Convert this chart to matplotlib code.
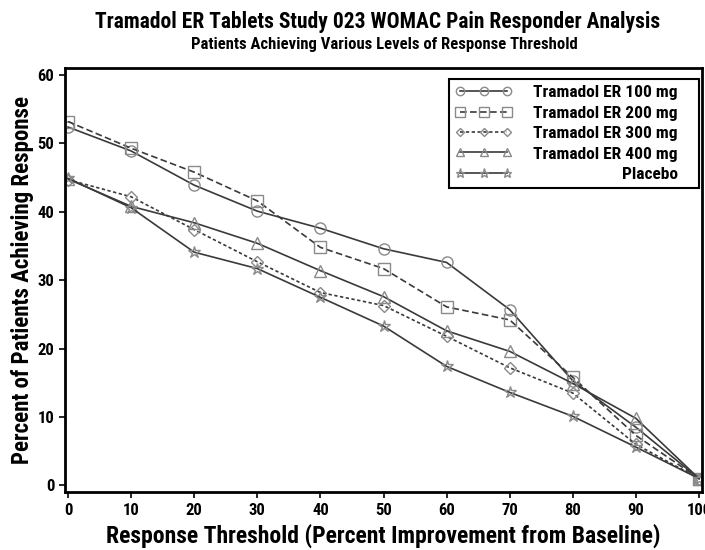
import numpy as np
import matplotlib
matplotlib.use('Agg')
import matplotlib.pyplot as plt
from matplotlib.offsetbox import DrawingArea

plt.rcParams['font.family'] = ['Roboto Condensed', 'DejaVu Sans']

# Data
thresholds = [0, 10, 20, 30, 40, 50, 60, 70, 80, 90, 100]
tram_100 = [52.4, 48.9, 43.9, 40.1, 37.6, 34.6, 32.6, 25.7, 15.3, 8.5, 1.0]
tram_200 = [53.2, 49.3, 45.8, 41.6, 34.8, 31.7, 26.1, 24.2, 15.8, 7.3, 1.0]
tram_300 = [44.7, 42.2, 37.4, 32.7, 28.2, 26.3, 21.8, 17.2, 13.5, 6.0, 1.0]
tram_400 = [44.8, 40.8, 38.4, 35.4, 31.4, 27.6, 22.6, 19.6, 14.9, 9.8, 1.0]
placebo = [44.9, 40.6, 34.1, 31.7, 27.5, 23.3, 17.4, 13.6, 10.1, 5.6, 1.0]

labels = ['Tramadol ER 100 mg', 'Tramadol ER 200 mg', 'Tramadol ER 300 mg',
          'Tramadol ER 400 mg', 'Placebo']
series = [tram_100, tram_200, tram_300, tram_400, placebo]
markers = ['o', 's', 'D', '^', '*']
styles = ['-', (0, (4, 2)), (0, (2, 1.5)), '-', '-']
msizes = [8, 9, 6, 8, 9]

fig = plt.figure(figsize=(7.05, 5.5), dpi=100)
ax = fig.add_axes([0.092, 0.105, 0.904, 0.771])

line_col = '#3a3a3a'
mark_col = '#8a8a8a'
for y, lab, m, ls, ms in zip(series, labels, markers, styles, msizes):
    ax.plot(thresholds, y, color=line_col, linestyle=ls, linewidth=1.2,
            marker=m, markersize=ms, markerfacecolor='none',
            markeredgecolor=mark_col, markeredgewidth=1.0, label=lab)

ax.set_xlim(-0.5, 100.5)
ax.set_ylim(-1, 61)
ax.set_xticks(np.arange(0, 101, 10))
ax.set_yticks(np.arange(0, 61, 10))
for s in ax.spines.values():
    s.set_linewidth(2.0)
ax.tick_params(axis='both', labelsize=12, length=4, width=1.2)
for t in ax.get_xticklabels() + ax.get_yticklabels():
    t.set_fontweight('bold')

ax.set_xlabel('Response Threshold (Percent Improvement from Baseline)',
              fontsize=17, fontweight='bold', labelpad=4)
ax.set_ylabel('Percent of Patients Achieving Response',
              fontsize=16.5, fontweight='bold', labelpad=3)

fig.text(0.535, 0.96, 'Tramadol ER Tablets Study 023 WOMAC Pain Responder Analysis',
         ha='center', va='center', fontsize=15.5, fontweight='bold')
fig.text(0.545, 0.92, 'Patients Achieving Various Levels of Response Threshold',
         ha='center', va='center', fontsize=12, fontweight='bold')

leg = ax.legend(loc='upper right', numpoints=3, handlelength=3.3,
                fancybox=False, edgecolor='black', framealpha=1,
                prop={'weight': 'bold', 'size': 12.5}, borderpad=0.35,
                labelspacing=0.3, handletextpad=1.2, markerscale=0.75,
                borderaxespad=0, bbox_to_anchor=(0.995, 0.974))
leg.get_frame().set_linewidth(1.5)

# right-align legend labels: stretch every row to the widest one
fig.canvas.draw()
renderer = fig.canvas.get_renderer()
rows = [r for col in leg._legend_handle_box.get_children() for r in col.get_children()]
row_w = max(r.get_bbox(renderer).width for r in rows)
for r in rows:
    r.mode = 'expand'
    r.width = row_w
# extra blank room on the right side of the legend box
leg._legend_handle_box._children.append(DrawingArea(0, 1))
leg._legend_handle_box.sep = 11

fig.savefig('out.png', dpi=100)
